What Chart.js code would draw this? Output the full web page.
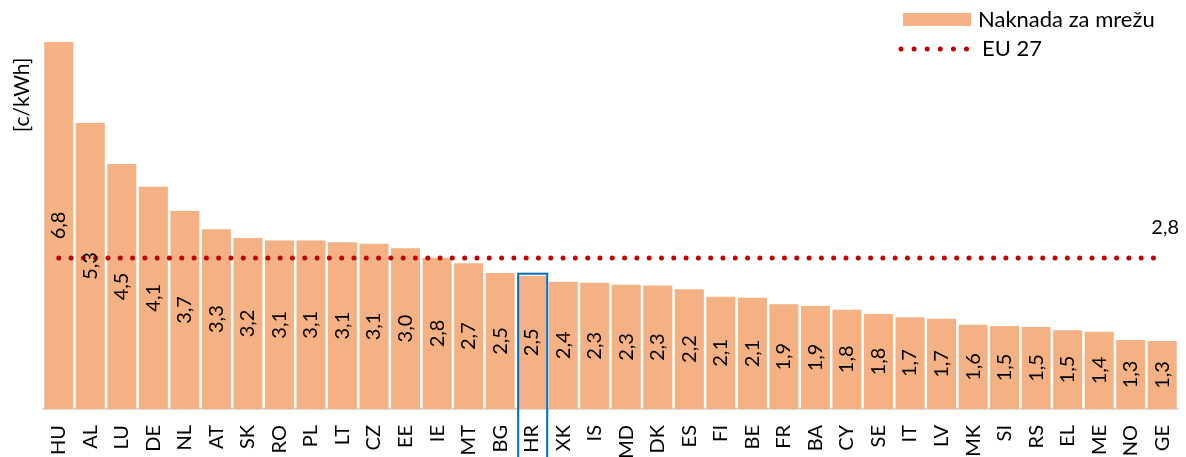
<!DOCTYPE html>
<html>
<head>
<meta charset="utf-8">
<script src="https://cdn.jsdelivr.net/npm/chart.js@4"></script>
<style>
  html, body { margin: 0; padding: 0; background: #fff; overflow: hidden; }
  #wrap { position: relative; width: 1186px; height: 457px; }
</style>
</head>
<body>
<div id="wrap"><canvas id="feeChart"></canvas></div>
<script>
// country codes, left to right
const countries = ['HU','AL','LU','DE','NL','AT','SK','RO','PL','LT','CZ','EE','IE','MT','BG','HR','XK','IS','MD','DK','ES','FI','BE','FR','BA','CY','SE','IT','LV','MK','SI','RS','EL','ME','NO','GE'];
// network fee [c/kWh]
const networkFee = [6.8,5.3,4.54,4.12,3.67,3.33,3.17,3.12,3.12,3.09,3.06,2.98,2.8,2.7,2.52,2.47,2.36,2.34,2.3,2.29,2.22,2.08,2.06,1.94,1.91,1.84,1.76,1.7,1.67,1.56,1.54,1.52,1.46,1.43,1.28,1.26];
const euAverage = 2.8;
const highlighted = 'HR';
const yMax = 6.8;

const barLabel = 'Naknada za mrežu';
const lineLabel = 'EU 27';
const unitLabel = '[c/kWh]';

const barColor = '#F4B183';
const lineColor = '#C00000';
const boxColor = '#0070C0';
const fontFamily = 'Lato, "Open Sans", sans-serif';

function fmt(v) {
    return v.toFixed(1).replace('.', ',');
}

const extras = {
    id: 'extras',
    afterDatasetsDraw(chart) {
        const ctx = chart.ctx;
        const barMeta = chart.getDatasetMeta(0);
        const lineMeta = chart.getDatasetMeta(1);

        // value labels, rotated, in the middle of each bar
        ctx.save();
        ctx.fillStyle = '#000';
        ctx.font = '20px ' + fontFamily;
        ctx.textAlign = 'center';
        ctx.textBaseline = 'middle';
        barMeta.data.forEach((bar, i) => {
            ctx.save();
            ctx.translate(bar.x, (bar.y + bar.base) / 2);
            ctx.rotate(-Math.PI / 2);
            ctx.fillText(fmt(networkFee[i]), 0, 0);
            ctx.restore();
        });

        // EU label above last point
        const last = lineMeta.data[lineMeta.data.length - 1];
        ctx.fillText(fmt(euAverage), last.x + 3, last.y - 30);

        // highlight box round HR
        const hi = countries.indexOf(highlighted);
        const hb = barMeta.data[hi];
        ctx.strokeStyle = boxColor;
        ctx.lineWidth = 2;
        ctx.strokeRect(hb.x - hb.width / 2 + 1, hb.y - 2, hb.width, chart.height - hb.y + 10);

        // y unit
        ctx.save();
        ctx.translate(22, chart.chartArea.top + 53);
        ctx.rotate(-Math.PI / 2);
        ctx.font = '21px ' + fontFamily;
        ctx.fillText(unitLabel, 0, 0);
        ctx.restore();

        // legend
        ctx.textAlign = 'left';
        ctx.font = '22px ' + fontFamily;
        ctx.fillStyle = barColor;
        ctx.fillRect(903, 13, 68, 13);
        ctx.fillStyle = '#000';
        ctx.fillText(barLabel, 978, 20);
        ctx.strokeStyle = lineColor;
        ctx.lineWidth = 5;
        ctx.lineCap = 'round';
        ctx.setLineDash([0, 13.1]);
        ctx.beginPath();
        ctx.moveTo(901, 49);
        ctx.lineTo(968, 49);
        ctx.stroke();
        ctx.setLineDash([]);
        ctx.fillText(lineLabel, 982, 49);
        ctx.restore();
    }
};

new Chart(document.getElementById('feeChart'), {
    type: 'bar',
    data: {
        labels: countries,
        datasets: [{
            label: barLabel,
            data: networkFee,
            backgroundColor: barColor,
            barPercentage: 0.92,
            categoryPercentage: 1,
            order: 1
        }, {
            type: 'line',
            label: lineLabel,
            data: countries.map(() => euAverage),
            borderColor: lineColor,
            borderWidth: 5,
            borderDash: [0, 12.3],
            borderCapStyle: 'round',
            pointRadius: 0,
            fill: false,
            order: 0
        }]
    },
    options: {
        responsive: true,
        maintainAspectRatio: false,
        animation: false,
        layout: { padding: { left: 43, right: 8, top: 42, bottom: 0 } },
        plugins: {
            legend: { display: false },
            tooltip: { enabled: false }
        },
        scales: {
            x: {
                grid: { display: false, drawTicks: false },
                border: { display: true, color: '#D9D9D9', width: 2 },
                ticks: {
                    autoSkip: false,
                    minRotation: 90,
                    maxRotation: 90,
                    padding: 16,
                    color: '#000',
                    font: { family: fontFamily, size: 20 }
                },
                afterFit: s => {
                    s.height = 48;
                    s.paddingLeft = 0;
                    s.paddingRight = 0;
                }
            },
            y: {
                display: false,
                min: 0,
                max: yMax
            }
        }
    },
    plugins: [extras]
});
</script>
</body>
</html>
